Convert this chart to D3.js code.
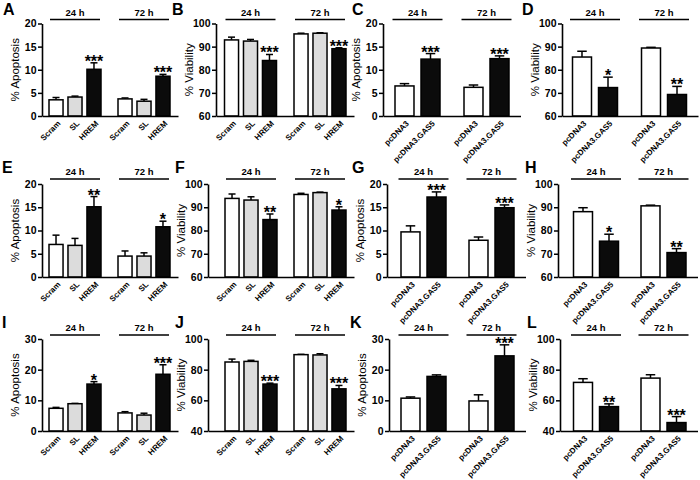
<!DOCTYPE html>
<html><head><meta charset="utf-8">
<script src="https://cdn.jsdelivr.net/npm/d3@7"></script>
<style>body{margin:0;background:#fff} svg{display:block} text{font-family:"Liberation Sans",Arial,sans-serif;fill:#000}</style>
</head><body><svg id="c" width="700" height="480"></svg>
<script>
// ---- categories & ticks ----
const times = ["24 h", "72 h"];
const shCats = ["Scram", "SL", "HREM"];
const pcCats = ["pcDNA3", "pcDNA3.GAS5"];
const apo20Ticks = [0, 5, 10, 15, 20];
const apo30Ticks = [0, 10, 20, 30];
const via60Ticks = [60, 70, 80, 90, 100];
const via40Ticks = [40, 60, 80, 100];

// ---- values (24 h categories, then 72 h categories) ----
const aMean = [3.5, 4.1, 10.1, 3.7, 3.2, 8.6];
const aErr  = [0.5, 0.2, 1.4, 0.2, 0.4, 0.4];
const aSig  = ["", "", "***", "", "", "***"];
const bMean = [92.9, 92.4, 84.0, 95.5, 95.8, 89.1];
const bErr  = [1.2, 0.7, 2.6, 0.3, 0.2, 0.4];
const bSig  = ["", "", "***", "", "", "***"];
const cMean = [6.5, 12.3, 6.2, 12.4];
const cErr  = [0.5, 1.2, 0.5, 0.6];
const cSig  = ["", "***", "", "***"];
const dMean = [85.5, 72.3, 89.4, 69.3];
const dErr  = [2.5, 4.5, 0.3, 3.5];
const dSig  = ["", "*", "", "**"];
const eMean = [7.0, 6.8, 15.1, 4.5, 4.5, 10.8];
const eErr  = [2.0, 1.5, 2.2, 1.1, 0.7, 1.2];
const eSig  = ["", "", "**", "", "", "*"];
const fMean = [93.8, 93.1, 84.7, 95.5, 96.3, 88.8];
const fErr  = [1.9, 1.4, 2.4, 0.5, 0.2, 1.4];
const fSig  = ["", "", "**", "", "", "*"];
const gMean = [9.7, 17.2, 7.9, 14.9];
const gErr  = [1.3, 1.1, 0.7, 0.6];
const gSig  = ["", "***", "", "***"];
const hMean = [88.1, 75.4, 90.6, 70.5];
const hErr  = [1.7, 3.0, 0.3, 1.7];
const hSig  = ["", "*", "", "**"];
const iMean = [7.4, 8.9, 15.3, 5.9, 5.2, 18.5];
const iErr  = [0.3, 0.1, 0.8, 0.4, 0.6, 3.1];
const iSig  = ["", "", "*", "", "", "***"];
const jMean = [85.0, 85.4, 70.6, 89.8, 89.6, 67.5];
const jErr  = [1.9, 0.7, 0.6, 0.2, 0.8, 2.2];
const jSig  = ["", "", "***", "", "", "***"];
const kMean = [10.7, 17.8, 9.8, 24.5];
const kErr  = [0.4, 0.5, 2.0, 3.6];
const kSig  = ["", "", "", "***"];
const lMean = [71.7, 55.9, 74.5, 45.5];
const lErr  = [2.4, 1.8, 2.2, 3.9];
const lSig  = ["", "**", "", "***"];

const APO = "% Apoptosis", VIA = "% Viability";

// ---- layout ----
const rows = [
  {top: 23.5, bottom: 116, head: 19.5, letter: 15},
  {top: 184, bottom: 277, head: 179, letter: 173},
  {top: 339, bottom: 431, head: 335, letter: 328}
];
const panels = [
  {id:"A", row:0, lx:3,   ax:42,  g:[75,144],     cats:shCats, mean:aMean, err:aErr, sig:aSig, ticks:apo20Ticks, label:APO},
  {id:"B", row:0, lx:172, ax:216, g:[250.5,320],  cats:shCats, mean:bMean, err:bErr, sig:bSig, ticks:via60Ticks, label:VIA},
  {id:"C", row:0, lx:352, ax:383, g:[417.5,486.5],cats:pcCats, mean:cMean, err:cErr, sig:cSig, ticks:apo20Ticks, label:APO},
  {id:"D", row:0, lx:522, ax:562, g:[595,664],    cats:pcCats, mean:dMean, err:dErr, sig:dSig, ticks:via60Ticks, label:VIA},
  {id:"E", row:1, lx:2,   ax:42,  g:[75,144],     cats:shCats, mean:eMean, err:eErr, sig:eSig, ticks:apo20Ticks, label:APO},
  {id:"F", row:1, lx:175, ax:208, g:[251,320],    cats:shCats, mean:fMean, err:fErr, sig:fSig, ticks:via60Ticks, label:VIA},
  {id:"G", row:1, lx:352, ax:387, g:[423.5,491.5],cats:pcCats, mean:gMean, err:gErr, sig:gSig, ticks:apo20Ticks, label:APO},
  {id:"H", row:1, lx:525, ax:558, g:[596,663.5],  cats:pcCats, mean:hMean, err:hErr, sig:hSig, ticks:via60Ticks, label:VIA},
  {id:"I", row:2, lx:2,   ax:42,  g:[75,144],     cats:shCats, mean:iMean, err:iErr, sig:iSig, ticks:apo30Ticks, label:APO},
  {id:"J", row:2, lx:175, ax:208, g:[251,320],    cats:shCats, mean:jMean, err:jErr, sig:jSig, ticks:via40Ticks, label:VIA},
  {id:"K", row:2, lx:350, ax:389, g:[423.5,491.5],cats:pcCats, mean:kMean, err:kErr, sig:kSig, ticks:apo30Ticks, label:APO},
  {id:"L", row:2, lx:527, ax:560, g:[596,663.5],  cats:pcCats, mean:lMean, err:lErr, sig:lSig, ticks:via40Ticks, label:VIA}
];
const fills = {"Scram":"#ffffff","SL":"#dcdcdc","HREM":"#0b0b0b","pcDNA3":"#ffffff","pcDNA3.GAS5":"#0b0b0b"};

const svg = d3.select("#c");
svg.append("rect").attr("width",700).attr("height",480).attr("fill","#fff");

panels.forEach(p => {
  const r = rows[p.row];
  const y = d3.scaleLinear().domain(d3.extent(p.ticks)).range([r.bottom, r.top]);
  const gx = d3.scalePoint().domain(times).range(p.g);
  const three = p.cats.length === 3;
  const inner = d3.scaleBand().domain(p.cats)
      .range(three ? [-26, 26] : [-22.5, 22.5])
      .paddingInner(three ? 0.26 : 0.27).paddingOuter(0);
  const bw = inner.bandwidth();
  const base = y(y.domain()[0]);
  const data = [];
  times.forEach((t, ti) => p.cats.forEach((c, ci) => {
    const i = ti * p.cats.length + ci;
    data.push({t, c, m: p.mean[i], e: p.err[i], s: p.sig[i]});
  }));
  const cx = d => gx(d.t) + inner(d.c) + bw / 2;
  const g = svg.append("g");

  // panel letter
  g.append("text").attr("x", p.lx).attr("y", r.letter)
    .attr("font-size", 16).attr("font-weight", "bold").text(p.id);

  // header lines and time labels
  times.forEach(t => {
    g.append("line").attr("x1", gx(t) - 25).attr("x2", gx(t) + 25)
      .attr("y1", r.head).attr("y2", r.head).attr("stroke", "#000").attr("stroke-width", 1.6);
    g.append("text").attr("x", gx(t)).attr("y", r.head - 4).attr("text-anchor", "middle")
      .attr("font-size", 9.5).attr("font-weight", "bold").text(t);
  });

  // error bars
  const eb = g.selectAll("g.eb").data(data).join("g").attr("class", "eb");
  eb.append("line").attr("x1", cx).attr("x2", cx)
    .attr("y1", d => y(d.m)).attr("y2", d => y(d.m + d.e))
    .attr("stroke", "#000").attr("stroke-width", 1.5);
  eb.append("line").attr("x1", d => cx(d) - bw * 0.25).attr("x2", d => cx(d) + bw * 0.25)
    .attr("y1", d => y(d.m + d.e)).attr("y2", d => y(d.m + d.e))
    .attr("stroke", "#000").attr("stroke-width", 1.5);

  // bars
  g.selectAll("rect.bar").data(data).join("rect").attr("class", "bar")
    .attr("x", d => gx(d.t) + inner(d.c)).attr("width", bw)
    .attr("y", d => y(d.m)).attr("height", d => base - y(d.m))
    .attr("fill", d => fills[d.c]).attr("stroke", "#000").attr("stroke-width", 1.5);

  // significance stars
  g.selectAll("text.sig").data(data.filter(d => d.s)).join("text").attr("class", "sig")
    .attr("x", cx).attr("y", d => y(d.m + d.e) + 4).attr("text-anchor", "middle")
    .attr("font-size", 16).attr("font-weight", "bold").text(d => d.s);

  // y axis
  const ya = g.append("g").attr("transform", `translate(${p.ax},0)`)
    .call(d3.axisLeft(y).tickValues(p.ticks).tickSize(4).tickSizeOuter(0).tickPadding(1.5));
  ya.select(".domain").attr("stroke-width", 1.6);
  ya.selectAll(".tick line").attr("stroke-width", 1.5);
  ya.selectAll(".tick text").attr("font-size", 10.5).attr("font-weight", "bold")
    .attr("font-family", '"Liberation Sans", Arial, sans-serif');

  // x axis line
  const xLine = d3.scaleLinear().range([p.ax, p.g[1] + 34]);
  g.append("g").attr("transform", `translate(0,${base})`)
    .call(d3.axisBottom(xLine).tickValues([]).tickSizeOuter(0))
    .select(".domain").attr("stroke-width", 1.6);

  // x tick labels
  g.selectAll("text.xl").data(data).join("text").attr("class", "xl")
    .attr("transform", d => `translate(${cx(d) + 3},${base + 6}) rotate(-45)`)
    .attr("text-anchor", "end").attr("dy", "0.35em")
    .attr("font-size", 8).attr("font-weight", "bold").text(d => d.c);

  // y label
  g.append("text").attr("transform", `translate(${p.ax - 27},${(r.top + r.bottom) / 2}) rotate(-90)`)
    .attr("text-anchor", "middle").attr("dy", "0.35em").attr("font-size", 11.5).text(p.label);
});
</script></body></html>
